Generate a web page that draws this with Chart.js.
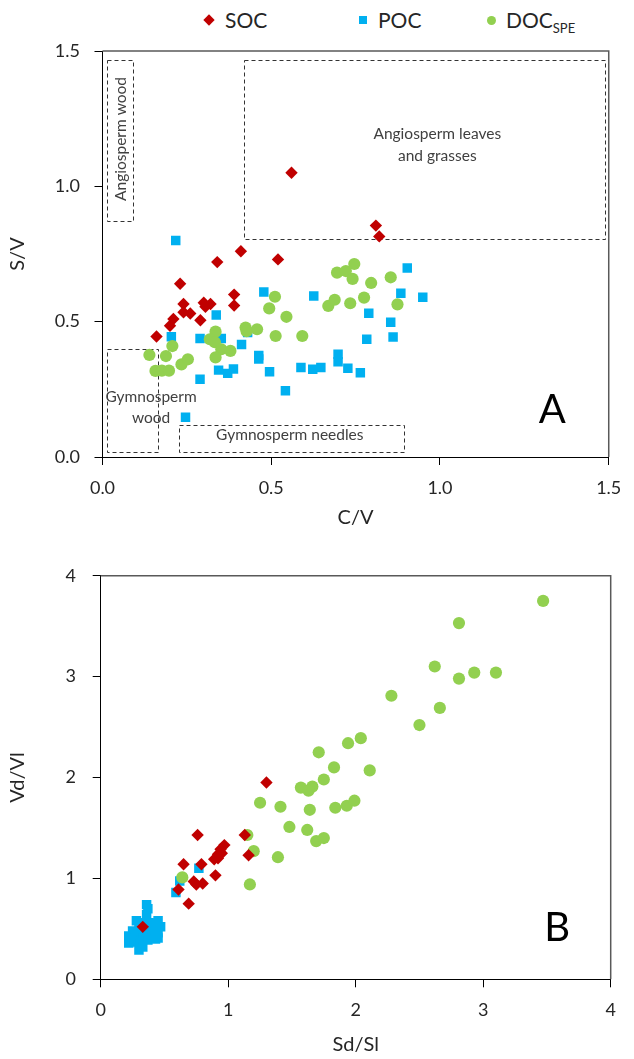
<!DOCTYPE html>
<html><head><meta charset="utf-8">
<script src="https://cdn.jsdelivr.net/npm/chart.js@4.4.1/dist/chart.umd.min.js"></script>
<style>
html,body{margin:0;padding:0;background:#fff}
body{width:634px;height:1059px;position:relative;overflow:hidden;font-family:Lato,sans-serif}
.w{position:absolute;left:0;width:634px}
#legend{position:absolute;left:0;top:0;width:634px;height:40px;font-size:21px;color:#262626}
.li{position:absolute;top:8px;line-height:24px;white-space:nowrap}
.mk{position:absolute}
.sb{font-size:13px;position:relative;top:5px}
</style></head><body>
<div id="legend">
  <div class="mk" style="left:205px;top:16px;width:8px;height:8px;background:#C00000;transform:rotate(45deg)"></div>
  <div class="li" style="left:225px">SOC</div>
  <div class="mk" style="left:359px;top:16px;width:8px;height:8px;background:#00B0F0"></div>
  <div class="li" style="left:378px">POC</div>
  <div class="mk" style="left:487px;top:16px;width:9px;height:9px;border-radius:50%;background:#92D050"></div>
  <div class="li" style="left:506px">DOC<span class="sb">SPE</span></div>
</div>
<div class="w" style="top:0;height:540px"><canvas id="c1"></canvas></div>
<div class="w" style="top:540px;height:519px"><canvas id="c2"></canvas></div>
<script>
// ---------- Panel A data: C/V (x) vs S/V (y) ----------
const socA = [[0.56,1.05],[0.41,0.76],[0.34,0.72],[0.52,0.73],[0.23,0.64],[0.39,0.60],[0.39,0.56],[0.24,0.565],[0.30,0.57],[0.32,0.565],[0.305,0.555],[0.24,0.535],[0.26,0.53],[0.29,0.505],[0.21,0.51],[0.20,0.485],[0.16,0.445],[0.81,0.855],[0.82,0.815]];
const pocA = [[0.217,0.80],[0.478,0.61],[0.626,0.595],[0.337,0.525],[0.204,0.444],[0.289,0.438],[0.352,0.438],[0.43,0.46],[0.412,0.416],[0.463,0.375],[0.463,0.362],[0.344,0.321],[0.371,0.309],[0.388,0.325],[0.495,0.315],[0.289,0.287],[0.542,0.245],[0.246,0.147],[0.588,0.331],[0.623,0.324],[0.647,0.331],[0.903,0.698],[0.884,0.605],[0.949,0.59],[0.789,0.531],[0.854,0.498],[0.783,0.435],[0.861,0.443],[0.698,0.38],[0.698,0.352],[0.727,0.328],[0.764,0.311]];
const docA = [[0.511,0.592],[0.494,0.549],[0.545,0.518],[0.669,0.558],[0.335,0.463],[0.424,0.478],[0.427,0.465],[0.458,0.472],[0.513,0.447],[0.592,0.447],[0.207,0.41],[0.318,0.435],[0.333,0.424],[0.352,0.398],[0.379,0.392],[0.335,0.368],[0.139,0.377],[0.188,0.373],[0.234,0.342],[0.253,0.361],[0.157,0.318],[0.176,0.319],[0.197,0.319],[0.746,0.713],[0.695,0.681],[0.721,0.687],[0.741,0.658],[0.796,0.643],[0.854,0.664],[0.688,0.581],[0.734,0.568],[0.775,0.589],[0.874,0.564]];
// ---------- Panel B data: Sd/Sl (x) vs Vd/Vl (y) ----------
const socB = [[1.30,1.95],[0.76,1.43],[1.13,1.43],[0.97,1.33],[0.94,1.29],[0.95,1.25],[0.92,1.24],[0.89,1.19],[0.92,1.20],[0.65,1.14],[0.79,1.14],[1.16,1.23],[0.90,1.03],[0.73,0.97],[0.75,0.94],[0.80,0.95],[0.61,0.89],[0.69,0.75],[0.33,0.52]];
const pocB = [[0.77,1.10],[0.62,0.975],[0.59,0.86],[0.36,0.74],[0.37,0.70],[0.36,0.64],[0.28,0.58],[0.32,0.56],[0.45,0.58],[0.42,0.55],[0.38,0.56],[0.30,0.50],[0.25,0.48],[0.40,0.50],[0.35,0.47],[0.45,0.46],[0.40,0.45],[0.28,0.45],[0.22,0.43],[0.27,0.42],[0.33,0.41],[0.45,0.41],[0.24,0.40],[0.43,0.40],[0.22,0.36],[0.26,0.37],[0.31,0.35],[0.37,0.39],[0.33,0.32],[0.30,0.29],[0.47,0.52]];
const docB = [[3.47,3.75],[2.81,3.53],[2.62,3.10],[2.81,2.98],[2.93,3.04],[3.10,3.04],[2.66,2.69],[2.50,2.52],[2.28,2.81],[2.04,2.39],[1.94,2.34],[1.71,2.25],[1.83,2.10],[2.11,2.07],[1.75,1.98],[1.57,1.90],[1.66,1.91],[1.63,1.87],[1.25,1.75],[1.41,1.71],[1.64,1.68],[1.84,1.70],[1.93,1.72],[1.99,1.77],[1.48,1.51],[1.62,1.48],[1.69,1.37],[1.75,1.40],[1.15,1.43],[1.20,1.27],[1.39,1.21],[1.17,0.94],[0.64,1.01]];
// ---------- axis ticks ----------
const ticksA = [0, 0.5, 1.0, 1.5];
const ticksB = [0, 1, 2, 3, 4];
const seriesNames = ['SOC', 'POC', 'DOC'];

// ---------- annotations (data units) ----------
const boxesA = [[0.014,0.873,0.09,1.467],[0.42,0.805,1.49,1.467],[0.014,0.017,0.165,0.398],[0.227,0.017,0.893,0.117]];
const notesA = [
  {t:'Angiosperm wood', x:0.054, y:0.946, rot:true},
  {t:'Angiosperm leaves', x:0.992, y:1.193},
  {t:'and grasses', x:0.992, y:1.112},
  {t:'Gymnosperm', x:0.144, y:0.222},
  {t:'wood', x:0.144, y:0.144},
  {t:'Gymnosperm needles', x:0.555, y:0.081},
  {t:'A', x:1.333, y:0.174, big:true}
];
const notesB = [{t:'B', x:3.58, y:0.51, big:true}];

const notesPlugin = {
  id: 'notes',
  beforeDatasetsDraw(chart, args, o) {
    const {ctx, chartArea: a} = chart;
    const sx = chart.scales.x, sy = chart.scales.y;
    ctx.save();
    ctx.strokeStyle = '#595959'; ctx.lineWidth = 1.5;
    ctx.beginPath();
    ctx.moveTo(a.left, a.top); ctx.lineTo(a.right, a.top); ctx.lineTo(a.right, a.bottom);
    ctx.stroke();
    ctx.setLineDash([4, 3]); ctx.strokeStyle = '#333'; ctx.lineWidth = 1;
    (o.boxes || []).forEach(b => {
      const x0 = Math.round(sx.getPixelForValue(b[0])) + 0.5, x1 = Math.round(sx.getPixelForValue(b[2])) + 0.5;
      const y0 = Math.round(sy.getPixelForValue(b[3])) + 0.5, y1 = Math.round(sy.getPixelForValue(b[1])) + 0.5;
      ctx.strokeRect(x0, y0, x1 - x0, y1 - y0);
    });
    ctx.setLineDash([]);
    (o.notes || []).forEach(n => {
      const px = sx.getPixelForValue(n.x), py = sy.getPixelForValue(n.y);
      ctx.fillStyle = n.big ? '#000' : '#404040';
      ctx.font = n.big ? '40px Lato' : '15.5px Lato';
      ctx.textBaseline = 'middle';
      if (n.rot) {
        ctx.save(); ctx.translate(px, py); ctx.rotate(-Math.PI / 2);
        ctx.textAlign = 'left'; ctx.fillText(n.t, 0, 0); ctx.restore();
      } else {
        ctx.textAlign = 'center'; ctx.fillText(n.t, px, py);
      }
    });
    ctx.restore();
  }
};

function pts(arr) { return arr.map(p => ({x: p[0], y: p[1]})); }
function datasets(soc, poc, doc) {
  return [
    {label: seriesNames[0], data: pts(soc), pointStyle: 'rectRot', pointRadius: 6.2, backgroundColor: '#C00000', borderWidth: 0, order: 1},
    {label: seriesNames[1], data: pts(poc), pointStyle: 'rect', pointRadius: 6.7, backgroundColor: '#00B0F0', borderWidth: 0, order: 3},
    {label: seriesNames[2], data: pts(doc), pointStyle: 'circle', pointRadius: 6.1, backgroundColor: '#92D050', borderWidth: 0, order: 2}
  ];
}
function axis(ticks, fmt, title, size, tpad, titlePad, isX) {
  return {
    type: 'linear', min: ticks[0], max: ticks[ticks.length - 1],
    afterBuildTicks: s => { s.ticks = ticks.map(v => ({value: v})); },
    ticks: {callback: fmt, font: {family: 'Lato', size: 18}, color: '#262626', padding: tpad, maxRotation: 0, autoSkip: false},
    grid: {drawOnChartArea: false, drawTicks: true, tickLength: 8, color: '#000', lineWidth: 1},
    border: {display: true, color: '#000', width: 1},
    title: {display: true, text: title, font: {family: 'Lato', size: 20}, color: '#262626', padding: titlePad},
    afterFit: s => { if (isX) s.height = size; else s.width = size; }
  };
}
Chart.defaults.animation = false;
new Chart(document.getElementById('c1'), {
  type: 'scatter',
  data: {datasets: datasets(socA, pocA, docA)},
  options: {
    responsive: true, maintainAspectRatio: false,
    layout: {padding: {left: 0, right: 17, top: 51, bottom: 0}},
    scales: {
      x: axis(ticksA, v => v.toFixed(1), 'C/V', 83, 12.7, {top: 0, bottom: 10}, true),
      y: axis(ticksA, v => v.toFixed(1), 'S/V', 102.5, 14.5, {top: 6, bottom: 0}, false)
    },
    plugins: {legend: {display: false}, tooltip: {enabled: false}, notes: {boxes: boxesA, notes: notesA}}
  },
  plugins: [notesPlugin]
});
new Chart(document.getElementById('c2'), {
  type: 'scatter',
  data: {datasets: datasets(socB, pocB, docB)},
  options: {
    responsive: true, maintainAspectRatio: false,
    layout: {padding: {left: 0, right: 23.3, top: 35.7, bottom: 0}},
    scales: {
      x: axis(ticksB, v => String(v), 'Sd/Sl', 79.7, 11.9, {top: 0, bottom: 2}, true),
      y: axis(ticksB, v => String(v), 'Vd/Vl', 100.7, 16.7, {top: 6, bottom: 0}, false)
    },
    plugins: {legend: {display: false}, tooltip: {enabled: false}, notes: {boxes: [], notes: notesB}}
  },
  plugins: [notesPlugin]
});
</script>
</body></html>
